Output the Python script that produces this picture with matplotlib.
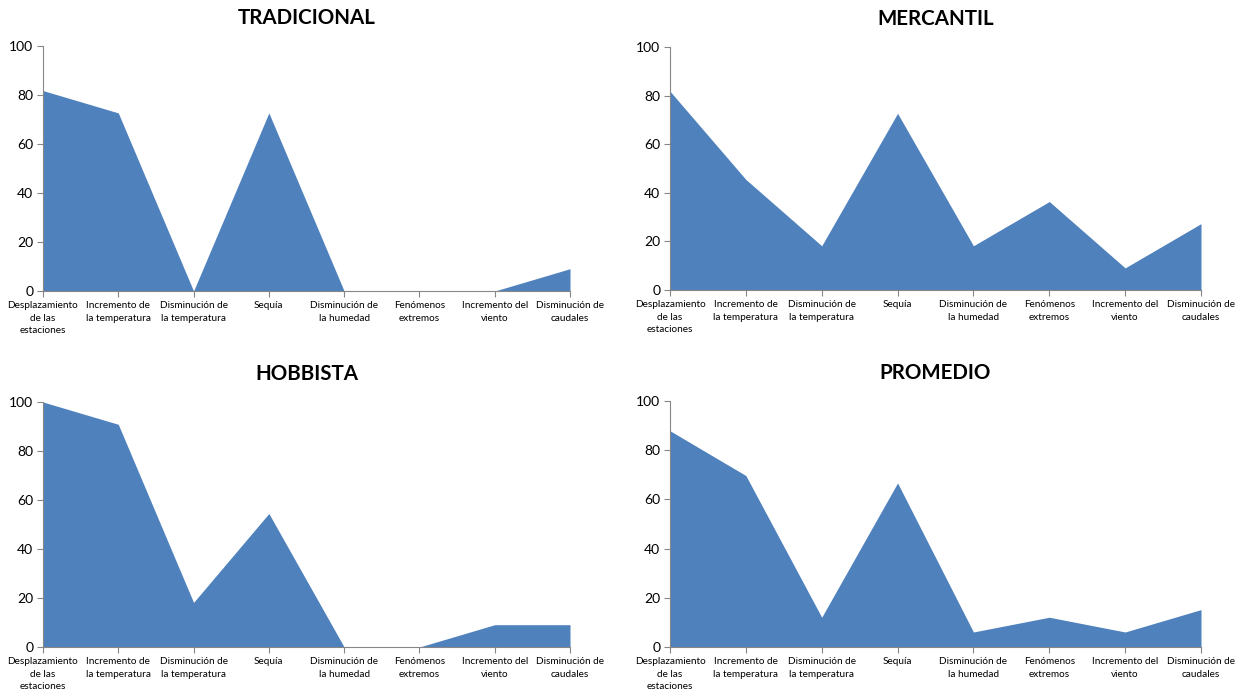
import matplotlib
matplotlib.use("Agg")
import matplotlib.pyplot as plt

categories = ["Desplazamiento\nde las\nestaciones", "Incremento de\nla temperatura",
              "Disminución de\nla temperatura", "Sequía", "Disminución de\nla humedad",
              "Fenómenos\nextremos", "Incremento del\nviento", "Disminución de\ncaudales"]

tradicional = [81.8, 72.7, 0.0, 72.7, 0.0, 0.0, 0.0, 9.1]
mercantil = [81.8, 45.5, 18.2, 72.7, 18.2, 36.4, 9.1, 27.3]
hobbista = [100.0, 90.9, 18.2, 54.5, 0.0, 0.0, 9.1, 9.1]
promedio = [87.9, 69.7, 12.1, 66.7, 6.1, 12.1, 6.1, 15.2]

titles = ["TRADICIONAL", "MERCANTIL", "HOBBISTA", "PROMEDIO"]
series = [tradicional, mercantil, hobbista, promedio]
yticks = [0, 20, 40, 60, 80, 100]

plt.rcParams['font.family'] = ['Lato', 'DejaVu Sans']

W, H = 1245, 695
fig = plt.figure(figsize=(W / 100, H / 100), dpi=100)

# axes boxes in pixels: left, right, top(100), bottom(0)
boxes = [(43, 570, 46, 291), (670, 1201, 47, 290),
         (43, 570, 402, 647), (670, 1201, 401, 647)]

color = "#4F81BD"
axis_col = "#868686"

for (l, r, t, b), title, vals in zip(boxes, titles, series):
    ax = fig.add_axes([l / W, 1 - b / H, (r - l) / W, (b - t) / H])
    x = list(range(len(categories)))
    ax.fill_between(x, vals, 0, color=color, linewidth=0)
    ax.set_xlim(0, len(categories) - 1)
    ax.set_ylim(0, 100)
    ax.set_yticks(yticks)
    ax.set_yticklabels([str(v) for v in yticks], fontsize=10)
    ax.set_xticks(x)
    ax.set_xticklabels(categories, fontsize=7.2, linespacing=1.55)
    for s in ["top", "right"]:
        ax.spines[s].set_visible(False)
    for s in ["left", "bottom"]:
        ax.spines[s].set_color(axis_col)
        ax.spines[s].set_linewidth(0.8)
    ax.tick_params(axis="both", direction="out", length=4, width=0.8, color=axis_col)
    ax.tick_params(axis="y", pad=3)
    ax.tick_params(axis="x", pad=3)
    ax.set_title(title, fontsize=14.8, fontweight="bold", pad=16)

fig.savefig("out.png", dpi=100, facecolor="white")
